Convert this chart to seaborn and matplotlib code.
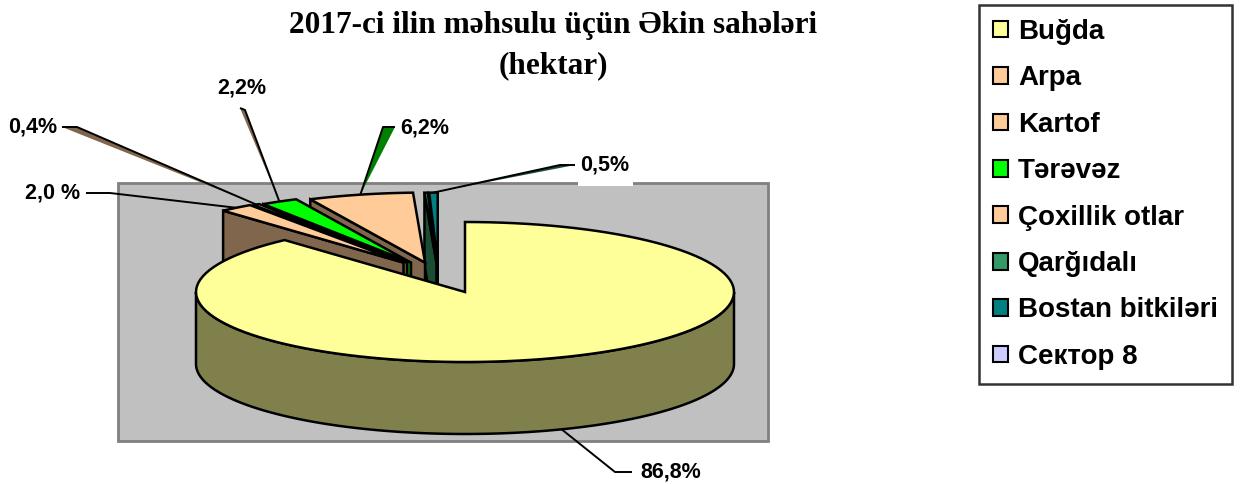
import numpy as np
import matplotlib
matplotlib.use("Agg")
import matplotlib.pyplot as plt
import seaborn as sns
from matplotlib.patches import Polygon, Rectangle, Patch
from matplotlib.colors import to_rgb

# ---------------- data ----------------
categories = ["Buğda", "Arpa", "Kartof", "Tərəvəz", "Çoxillik otlar",
              "Qarğıdalı", "Bostan bitkiləri", "Сектор 8"]
values = [86.8, 2.0, 0.4, 2.2, 6.2, 0.2, 0.5, 0.0]
value_labels = ["86,8%", "2,0 %", "0,4%", "2,2%", "6,2%", None, "0,5%", None]
top_colors = ["#FFFF99", "#FFCC99", "#FFCC99", "#00FF00", "#FFCC99",
              "#339966", "#008080", "#CCCCFF"]
title_lines = ["2017-ci ilin məhsulu üçün Əkin sahələri", "(hektar)"]

# ---------------- style / layout ----------------
sns.set_theme(style="white")
plt.rcParams["font.family"] = ["Liberation Sans", "DejaVu Sans"]
plt.rcParams["text.color"] = "black"

W, H = 1240, 484
fig = plt.figure(figsize=(W / 100, H / 100), dpi=100)
ax = fig.add_axes([0, 0, 1, 1])
ax.set_xlim(0, W)
ax.set_ylim(H, 0)
ax.axis("off")

CX, CY, RX, RY, DEPTH = 465, 292, 269, 70, 72
EXP_A, EXP_B, EXP_Y = 0.21, -0.098, 0.42
LW = 1.8
side_colors = [tuple(0.5 * c for c in to_rgb(col)) for col in top_colors]

# plot area background
ax.add_patch(Rectangle((118, 183), 650, 258, facecolor="#C0C0C0",
                       edgecolor="#808080", lw=2, zorder=0))

fr = np.array(values) / np.sum(values)
starts = 90 - 360 * np.concatenate([[0], np.cumsum(fr)[:-1]])
ends = starts - 360 * fr
mids = (starts + ends) / 2
exploded = [False] + [True] * (len(values) - 1)


def centre(i):
    if not exploded[i]:
        return CX, CY
    m = np.radians(mids[i])
    return CX + RX * (EXP_A * np.cos(m) + EXP_B), CY - RY * EXP_Y


def pt(c, t_deg, down=0.0):
    t = np.radians(t_deg)
    return c[0] + RX * np.cos(t), c[1] - RY * np.sin(t) + down


def arc(c, a, b, down=0.0, n=120):
    ts = np.linspace(a, b, n)
    return [pt(c, t, down) for t in ts]


def draw_slice(i, z):
    if values[i] <= 0:
        return
    c = centre(i)
    s, e = starts[i], ends[i]
    sc = side_colors[i]
    # outer side, front half only
    for k in range(-2, 2):
        lo = max(e, -180 + 360 * k)
        hi = min(s, 360 * k)
        if lo < hi:
            top = arc(c, hi, lo)
            bot = arc(c, lo, hi, DEPTH)
            ax.add_patch(Polygon(top + bot, closed=True, facecolor=sc,
                                 edgecolor="black", lw=LW, zorder=z))
    # radial cut faces facing the viewer
    for ang, vis in ((s, np.cos(np.radians(s)) < -1e-6),
                     (e, np.cos(np.radians(e)) > 1e-6)):
        if vis:
            p = pt(c, ang)
            poly = [c, p, (p[0], p[1] + DEPTH), (c[0], c[1] + DEPTH)]
            ax.add_patch(Polygon(poly, closed=True, facecolor=sc,
                                 edgecolor="black", lw=LW, zorder=z + 0.1))
    # top face
    poly = [c] + arc(c, s, e)
    ax.add_patch(Polygon(poly, closed=True, facecolor=top_colors[i],
                         edgecolor="black", lw=LW, zorder=z + 0.2))


order = list(range(len(values) - 1, 0, -1)) + [0]
for zi, i in enumerate(order):
    draw_slice(i, 2 + zi)

# ---------------- data labels with leader lines ----------------
label_layout = {
    0: dict(text=(640, 472), ha="left", path=[(632, 472), (615, 472)], wedge=None),
    1: dict(text=(80, 193), ha="right", path=[(86, 193), (110, 193)], wedge=None),
    2: dict(text=(57, 127), ha="right", path=[(62, 127), (77, 127)], wedge="#80664D"),
    3: dict(text=(242, 88), ha="center", path=[(240, 108), (245, 110)], wedge="#80664D"),
    4: dict(text=(400, 128), ha="left", path=[(395, 127), (383, 127)], wedge="#008000"),
    6: dict(text=(580, 165), ha="left", path=[(575, 165), (560, 165)], wedge="#1A4D33"),
}
# white background box of the 0,5% label (covers the plot-area border)
ax.add_patch(Rectangle((578, 150), 55, 36, facecolor="white",
                       edgecolor="none", zorder=1))
for i, lay in label_layout.items():
    c = centre(i)
    if exploded[i]:
        anchor = pt(c, mids[i])
    else:
        anchor = pt(c, mids[i], DEPTH)
    pts = lay["path"] + [anchor]
    if lay["wedge"] is not None:
        ax.add_patch(Polygon(pts, closed=True, facecolor=lay["wedge"],
                             edgecolor="none", zorder=29))
    xs, ys = zip(*pts)
    ax.plot(xs, ys, color="black", lw=1.4, zorder=30, solid_capstyle="butt")
    ax.text(lay["text"][0], lay["text"][1], value_labels[i], ha=lay["ha"],
            va="center", fontsize=15.5, fontweight="bold", color="black",
            zorder=31)

# ---------------- title ----------------
for txt, y in zip(title_lines, (25, 66)):
    ax.text(553, y, txt, ha="center", va="center", fontsize=22.5,
            fontweight="bold", color="black",
            family=["Liberation Serif", "DejaVu Serif"])

# ---------------- legend ----------------
handles = [Patch(facecolor=col, edgecolor="black", lw=1.5) for col in top_colors]
leg = ax.legend(handles, categories, loc="upper left",
                bbox_to_anchor=(979 / W, 1 - 5 / H), bbox_transform=fig.transFigure,
                borderaxespad=0, frameon=True, fancybox=False,
                prop=dict(family=["Liberation Sans", "DejaVu Sans"], weight="bold", size=20),
                handlelength=0.55, handleheight=0.55, handletextpad=0.35,
                labelspacing=0.735, borderpad=0.5)
leg.get_frame().set_edgecolor("black")
leg.get_frame().set_linewidth(1.8)
for t in leg.get_texts():
    t.set_color("black")
leg.set_zorder(40)

fig.savefig("out.png", dpi=100, facecolor="white")
